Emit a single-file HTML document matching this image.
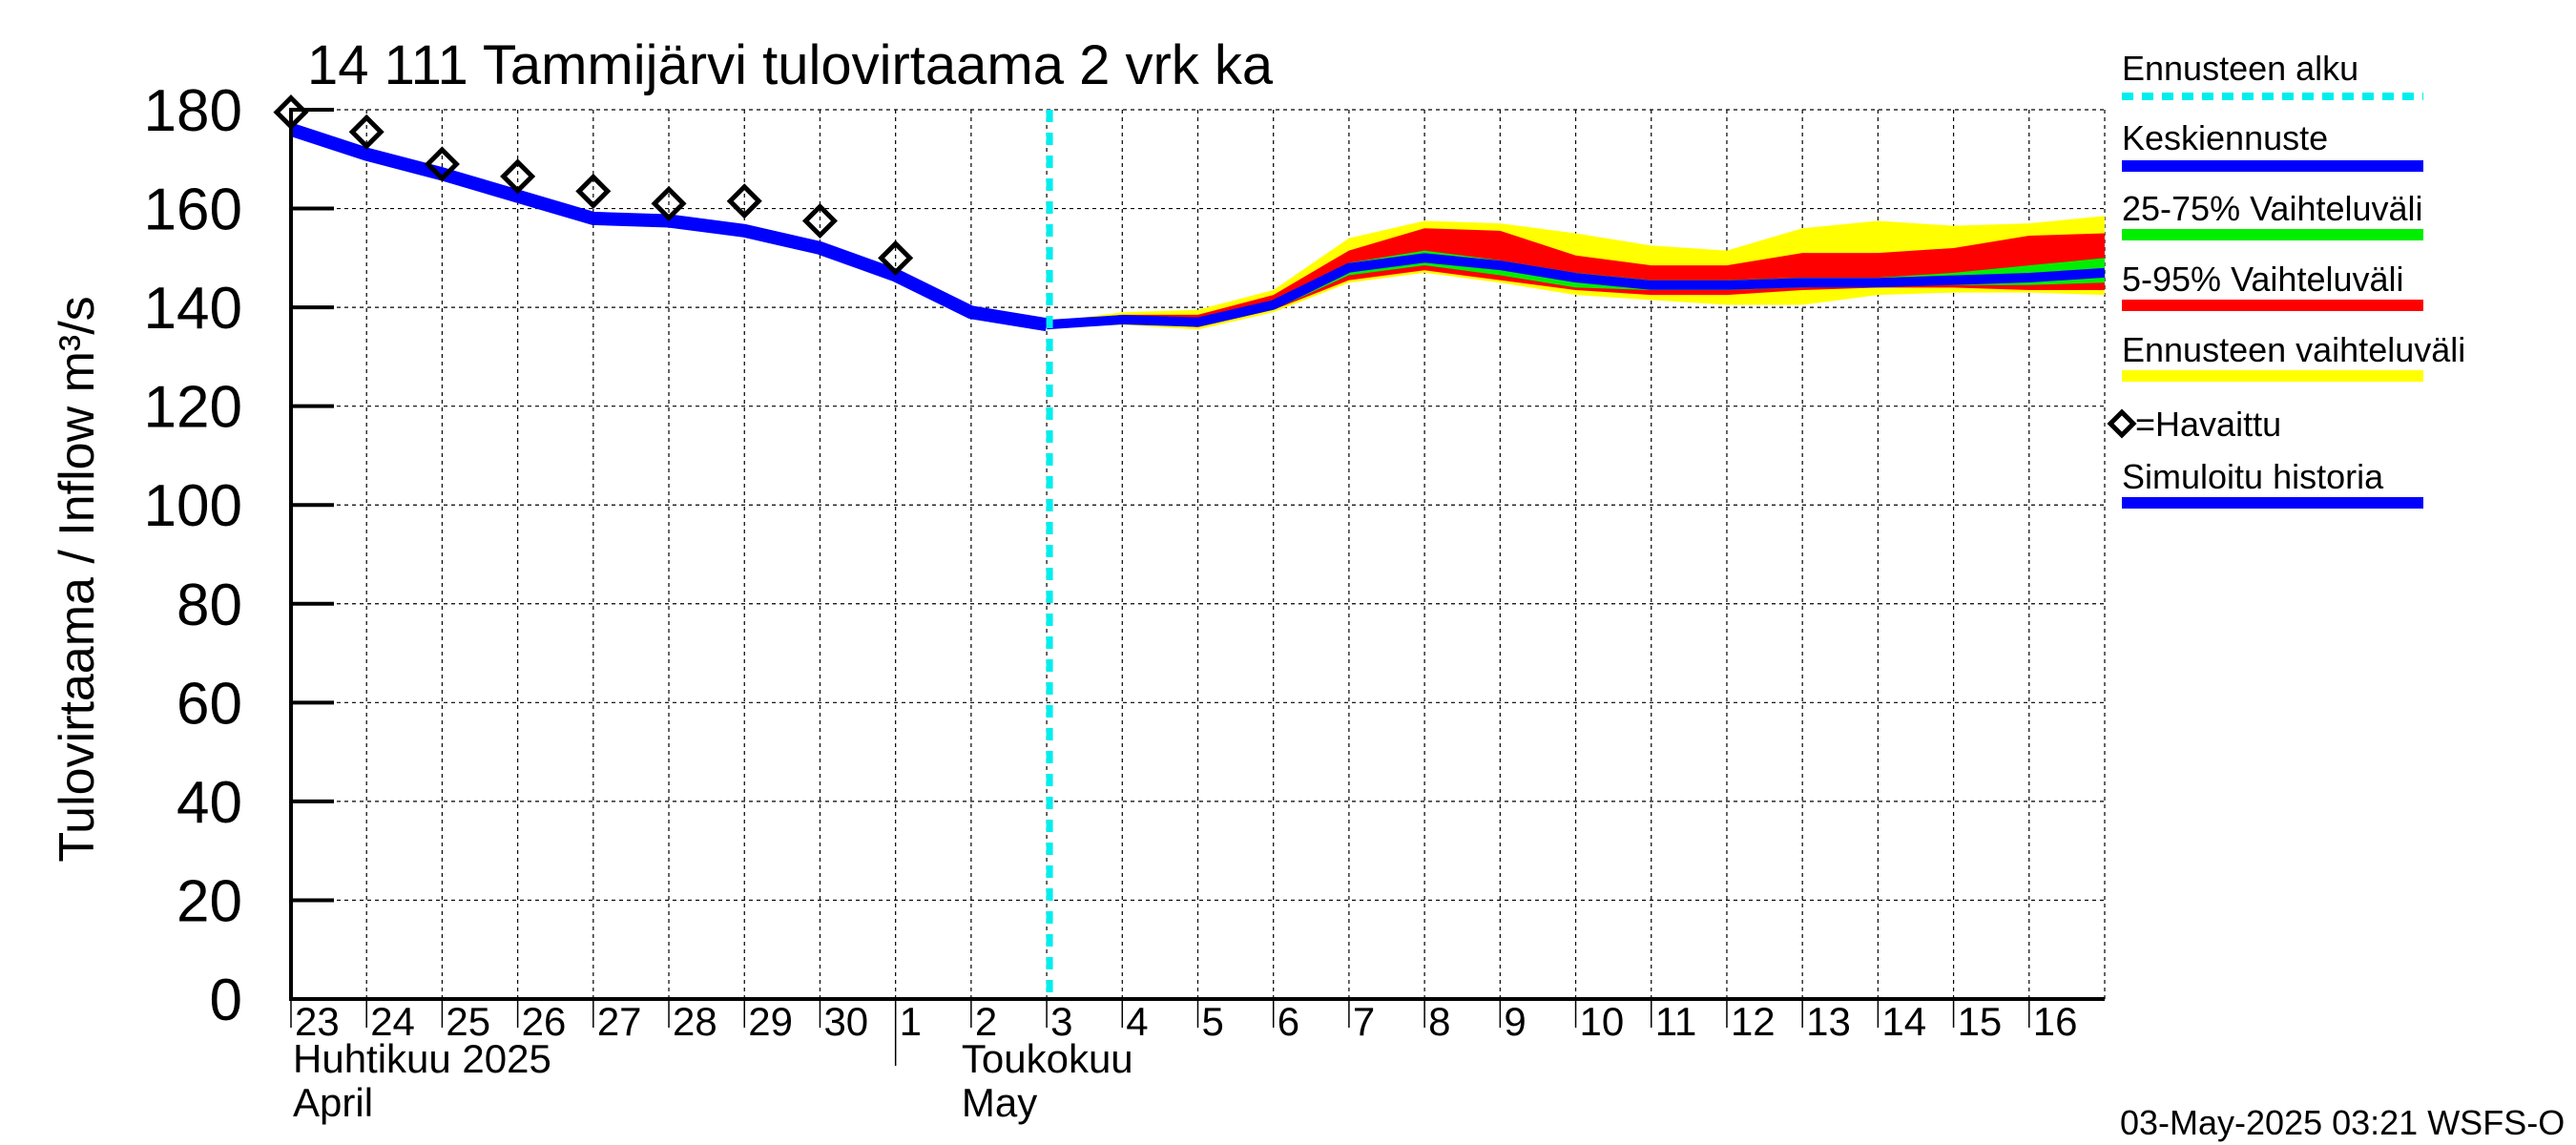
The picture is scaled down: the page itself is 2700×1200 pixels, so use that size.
<!DOCTYPE html>
<html><head><meta charset="utf-8"><style>
html,body{margin:0;padding:0;background:#fff;}
svg{display:block;font-family:"Liberation Sans",sans-serif;}
</style></head><body>
<svg id="chart" width="2700" height="1200" viewBox="0 0 2700 1200" xmlns="http://www.w3.org/2000/svg">
<text x="322" y="88" font-size="58">14 111 Tammijärvi tulovirtaama 2 vrk ka</text>
<text transform="translate(98,607) rotate(-90)" text-anchor="middle" font-size="52">Tulovirtaama / Inflow    m³/s</text>
<g id="grid"></g>
<g id="bands"></g>
<g id="lines"></g>
<g id="axes"></g>
<g id="legend"></g>
<text x="2222" y="1189" font-size="36">03-May-2025 03:21 WSFS-O</text>
</svg>
<script>
const dayLabels = ["23","24","25","26","27","28","29","30","1","2","3","4","5","6","7","8","9","10","11","12","13","14","15","16"];
const yTicks = [0,20,40,60,80,100,120,140,160,180];
const histDays = [0,1,2,3,4,5,6,7,8,9,10];
const histValues = [176,171,167,162.5,158,157.5,155.5,152,146.5,139,136.5];
const obsDays = [0,1,2,3,4,5,6,7,8];
const obsValues = [179.5,175.5,169,166.5,163.5,161,161.5,157.5,150];
const fcDays = [10,11,12,13,14,15,16,17,18,19,20,21,22,23,24];
const fcMedian = [136.5,137.5,137,140.5,148,150,148.5,146,144.5,144.5,145,145,145.5,146,147];
const fcMaxAll = [137,139,139.5,143.5,154,157.5,157,155,152.5,151.5,156,157.5,156.5,157,158.5];
const fcMinAll = [136,136.5,135.5,139,145,147,145,142.5,141.5,140.5,140.5,142.5,143,143,142.5];
const fc95 = [137,138.5,138.5,142.5,151.5,156,155.5,150.5,148.5,148.5,151,151,152,154.5,155];
const fc5 = [136,137,136,139.5,145.5,147.5,145.5,143.5,142.5,142.5,143.5,144,144,143.5,143.5];
const fc75 = [136.8,138,137.5,141.5,149,151.5,149.5,147,145.5,145.5,146,146,147,148.5,150];
const fc25 = [136.2,137,136.5,139.5,146.5,148.5,146.5,144,143.5,143.5,144,144.5,144.5,144.5,145];
const forecastStart = 10;

const NS="http://www.w3.org/2000/svg";
const X0=305,X1=2206,Y0=1047,Y1=115,NDAYS=24,YMAX=180;
const xs=d=>X0+(X1-X0)*d/NDAYS;
const ys=v=>Y0-(Y0-Y1)*v/YMAX;
function mk(tag,attrs,parent){const e=document.createElementNS(NS,tag);for(const k in attrs)e.setAttribute(k,attrs[k]);parent.appendChild(e);return e;}
const grid=document.getElementById('grid'),bands=document.getElementById('bands'),lines=document.getElementById('lines'),axes=document.getElementById('axes'),legend=document.getElementById('legend');

yTicks.forEach(v=>{
  if(v>0){const g=mk('line',{x1:X0,x2:X1,y1:ys(v),y2:ys(v),stroke:'#000','stroke-width':1.2,'stroke-dasharray':'4,4'},grid);
  
  }
  const t=mk('line',{x1:X0,x2:X0+45,y1:ys(v),y2:ys(v),stroke:'#000','stroke-width':4},axes);
  
  
  const l=mk('text',{x:254,y:ys(v)+22,'text-anchor':'end','font-size':62},axes);
  
  
  l.textContent=v;
});
dayLabels.forEach((lab,i)=>{
  const x=xs(i);
  if(i>0){const g=mk('line',{x1:x,x2:x,y1:Y1,y2:Y0,stroke:'#000','stroke-width':1.2,'stroke-dasharray':'4,4'},grid);
  
  }
  const t=mk('line',{x1:x,x2:x,y1:Y0,y2:Y0+(i===8?70:30),stroke:'#000','stroke-width':1.5},axes);
  
  
  const l=mk('text',{x:x+4,y:1085,'font-size':42},axes);
  
  
  l.textContent=lab;
});
const gl=mk('line',{x1:X1,x2:X1,y1:Y1,y2:Y0,stroke:'#000','stroke-width':1.2,'stroke-dasharray':'4,4'},grid);


[["Huhtikuu  2025",xs(0)+2,1124],["April",xs(0)+2,1170],["Toukokuu",xs(9)-10,1124],["May",xs(9)-10,1170]].forEach(m=>{
  const l=mk('text',{x:m[1],y:m[2],'font-size':42},axes);
  
  
  l.textContent=m[0];
});

function band(up,lo,color,name){
  let p=fcDays.map((d,i)=>xs(d)+','+ys(up[i])).join(' ')+' '+fcDays.slice().reverse().map((d,j)=>{const i=fcDays.length-1-j;return xs(d)+','+ys(lo[i]);}).join(' ');
  const e=mk('polygon',{points:p,fill:color},bands);
  
  
}
band(fcMaxAll,fcMinAll,'#ffff00','band-full-range');
band(fc95,fc5,'#ff0000','band-5-95');
band(fc75,fc25,'#00ee00','band-25-75');

const hl=mk('polyline',{points:histDays.map((d,i)=>xs(d)+','+ys(histValues[i])).join(' '),fill:'none',stroke:'#0000ff','stroke-width':14,'stroke-linejoin':'round'},lines);


const ml=mk('polyline',{points:fcDays.map((d,i)=>xs(d)+','+ys(fcMedian[i])).join(' '),fill:'none',stroke:'#0000ff','stroke-width':10,'stroke-linejoin':'round'},lines);


const cl=mk('line',{x1:xs(forecastStart)+3,x2:xs(forecastStart)+3,y1:Y1,y2:Y0,stroke:'#00eeee','stroke-width':7,'stroke-dasharray':'13,11'},lines);


obsDays.forEach((d,i)=>{
  const x=xs(d),y=ys(obsValues[i]),r=15;
  const o=mk('polygon',{points:`${x},${y-r} ${x+r},${y} ${x},${y+r} ${x-r},${y}`,fill:'none',stroke:'#000','stroke-width':5},lines);
  
  
});
const ax=mk('polyline',{points:`${X0},${Y1-2} ${X0},${Y0} ${X1},${Y0}`,fill:'none',stroke:'#000','stroke-width':4},axes);



const LX=2224,LX2=2540;
const items=[["Ennusteen alku",84,101,'#00eeee','dash'],["Keskiennuste",157,174,'#0000ff'],["25-75% Vaihteluväli",231,246,'#00ee00'],["5-95% Vaihteluväli",305,320,'#ff0000'],["Ennusteen vaihteluväli",379,394,'#ffff00'],["Simuloitu historia",512,527,'#0000ff']];
items.forEach(it=>{
  const t=mk('text',{x:LX,y:it[1],'font-size':36},legend);
  
  
  t.textContent=it[0];
  const a={x1:LX,x2:LX2,y1:it[2],y2:it[2],stroke:it[3],'stroke-width':it[4]?8:12};
  if(it[4])a['stroke-dasharray']='12,9';
  const s=mk('line',a,legend);
  
  
});
const ld=mk('polygon',{points:`${LX},${432} ${LX+12},${444} ${LX},${456} ${LX-12},${444}`,fill:'none',stroke:'#000','stroke-width':5},legend);


const lt=mk('text',{x:LX+14,y:457,'font-size':36},legend);


lt.textContent="=Havaittu";
</script>
</body></html>
